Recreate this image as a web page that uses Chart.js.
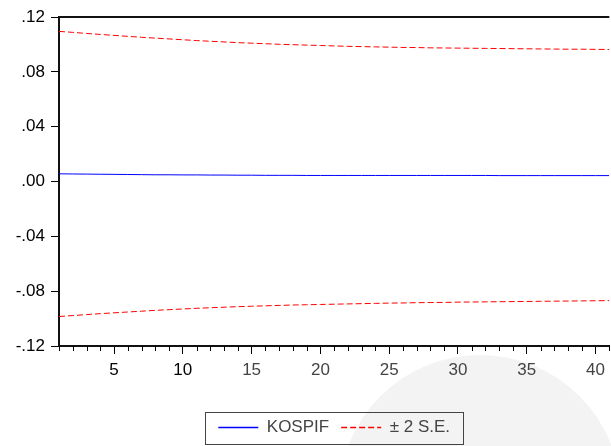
<!DOCTYPE html>
<html>
<head>
<meta charset="utf-8">
<script src="https://cdn.jsdelivr.net/npm/chart.js@4"></script>
<style>
  html, body { margin: 0; padding: 0; background: #fff; overflow: hidden; }
  #wrap { width: 611px; height: 446px; }
</style>
</head>
<body>
<div id="wrap"><canvas id="irf"></canvas></div>
<script>
// response periods 1..41
var periods = [];
for (var p = 1; p <= 41; p++) periods.push(p);

var kospif = [
  0.0056, 0.0055, 0.0054, 0.0053, 0.0052, 0.0051, 0.0050, 0.0049, 0.0049, 0.0048,
  0.0048, 0.0047, 0.0047, 0.0046, 0.0046, 0.0045, 0.0045, 0.0045, 0.0044, 0.0044,
  0.0044, 0.0044, 0.0044, 0.0044, 0.0044, 0.0044, 0.0044, 0.0044, 0.0044, 0.0044,
  0.0044, 0.0044, 0.0043, 0.0043, 0.0043, 0.0043, 0.0043, 0.0043, 0.0043, 0.0043,
  0.0043
];
var upperSE = [
  0.1095, 0.1088, 0.1080, 0.1073, 0.1066, 0.1059, 0.1052, 0.1046, 0.1040, 0.1034,
  0.1028, 0.1023, 0.1018, 0.1013, 0.1009, 0.1005, 0.1001, 0.0998, 0.0995, 0.0992,
  0.0989, 0.0986, 0.0984, 0.0982, 0.0980, 0.0978, 0.0977, 0.0975, 0.0974, 0.0973,
  0.0972, 0.0971, 0.0970, 0.0969, 0.0968, 0.0967, 0.0966, 0.0965, 0.0965, 0.0964,
  0.0963
];
var lowerSE = [
  -0.0985, -0.0978, -0.0971, -0.0964, -0.0958, -0.0952, -0.0946, -0.0940, -0.0935, -0.0930,
  -0.0925, -0.0921, -0.0917, -0.0913, -0.0910, -0.0907, -0.0904, -0.0901, -0.0899, -0.0897,
  -0.0895, -0.0893, -0.0891, -0.0889, -0.0887, -0.0886, -0.0884, -0.0883, -0.0882, -0.0880,
  -0.0879, -0.0878, -0.0877, -0.0876, -0.0875, -0.0874, -0.0873, -0.0872, -0.0871, -0.0870,
  -0.0869
];
var xTicks = [5, 10, 15, 20, 25, 30, 35, 40];
var yTicks = [-0.12, -0.08, -0.04, 0.00, 0.04, 0.08, 0.12];

function toPoints(vals) {
  return vals.map(function (v, i) { return { x: periods[i], y: v }; });
}

// faint round mark in the lower right background
var backdrop = {
  id: 'backdrop',
  beforeDraw: function (chart) {
    var ctx = chart.ctx;
    ctx.save();
    ctx.fillStyle = '#f3f3f3';
    ctx.beginPath();
    ctx.arc(480, 496, 141, 0, Math.PI * 2);
    ctx.fill();
    ctx.restore();
  }
};

// top frame line, minor x ticks and the box round the legend
var frame = {
  id: 'frame',
  afterDraw: function (chart) {
    var ctx = chart.ctx, a = chart.chartArea, xs = chart.scales.x;
    ctx.save();
    ctx.strokeStyle = '#111';
    ctx.lineWidth = 2;
    ctx.beginPath();
    ctx.moveTo(a.left, a.top);
    ctx.lineTo(a.right, a.top);
    ctx.stroke();

    ctx.lineWidth = 1;
    ctx.strokeStyle = '#000';
    periods.forEach(function (p) {
      if (xTicks.indexOf(p) >= 0) return;
      var px = Math.round(xs.getPixelForValue(p)) + 0.5;
      ctx.beginPath();
      ctx.moveTo(px, a.bottom);
      ctx.lineTo(px, a.bottom + 5);
      ctx.stroke();
    });

    var hb = chart.legend.legendHitBoxes;
    if (hb && hb.length) {
      var first = hb[0], last = hb[hb.length - 1];
      var cy = first.top + first.height / 2;
      var l = Math.round(first.left - 13) + 0.5;
      var r = Math.round(last.left + last.width + 13) + 0.5;
      ctx.strokeStyle = '#444';
      ctx.strokeRect(l, Math.round(cy - 16) + 0.5, r - l, 32);
    }
    ctx.restore();
  }
};

new Chart(document.getElementById('irf'), {
  type: 'line',
  data: {
    datasets: [
      {
        label: 'KOSPIF',
        data: toPoints(kospif),
        borderColor: '#0000ff',
        borderWidth: 1,
        pointRadius: 0,
        tension: 0
      },
      {
        label: '\u00b1 2 S.E.',
        data: toPoints(upperSE),
        borderColor: '#ff0000',
        borderWidth: 1,
        borderDash: [6, 3],
        pointRadius: 0,
        tension: 0
      },
      {
        label: 'lower',
        data: toPoints(lowerSE),
        borderColor: '#ff0000',
        borderWidth: 1,
        borderDash: [6, 3],
        pointRadius: 0,
        tension: 0
      }
    ]
  },
  options: {
    responsive: true,
    maintainAspectRatio: false,
    animation: false,
    layout: { padding: { top: 17, right: 0, bottom: 0, left: 0 } },
    plugins: {
      tooltip: { enabled: false },
      legend: {
        position: 'bottom',
        fullSize: false,
        labels: {
          usePointStyle: true,
          pointStyle: 'line',
          pointStyleWidth: 40,
          padding: 12,
          color: '#444',
          font: { family: 'Liberation Sans, Arial, sans-serif', size: 17 },
          generateLabels: function (chart) {
            return chart.data.datasets.slice(0, 2).map(function (ds, i) {
              return {
                text: ds.label,
                datasetIndex: i,
                pointStyle: 'line',
                strokeStyle: ds.borderColor,
                fillStyle: ds.borderColor,
                lineWidth: 1.5,
                lineDash: ds.borderDash || [],
                fontColor: '#444',
                hidden: false
              };
            });
          }
        }
      }
    },
    scales: {
      x: {
        type: 'linear',
        min: 1,
        max: 41,
        afterBuildTicks: function (s) {
          s.ticks = xTicks.map(function (v) { return { value: v }; });
        },
        afterFit: function (s) { s.height = 61; },
        border: { display: true, color: '#111', width: 2 },
        grid: { drawOnChartArea: false, drawTicks: true, tickLength: 8, tickColor: '#000' },
        ticks: {
          padding: 6,
          maxRotation: 0,
          autoSkip: false,
          color: function (c) { return c.tick && c.tick.value <= 10 ? '#000' : '#444'; },
          font: { family: 'Liberation Sans, Arial, sans-serif', size: 17 }
        }
      },
      y: {
        min: -0.12,
        max: 0.12,
        afterBuildTicks: function (s) {
          s.ticks = yTicks.map(function (v) { return { value: v }; });
        },
        afterFit: function (s) { s.width = 59; },
        border: { display: true, color: '#111', width: 2 },
        grid: { drawOnChartArea: false, drawTicks: true, tickLength: 8, tickColor: '#000' },
        ticks: {
          padding: 6,
          color: '#000',
          font: { family: 'Liberation Sans, Arial, sans-serif', size: 17 },
          callback: function (v) { return v.toFixed(2).replace('0.', '.'); }
        }
      }
    }
  },
  plugins: [backdrop, frame]
});
</script>
</body>
</html>
